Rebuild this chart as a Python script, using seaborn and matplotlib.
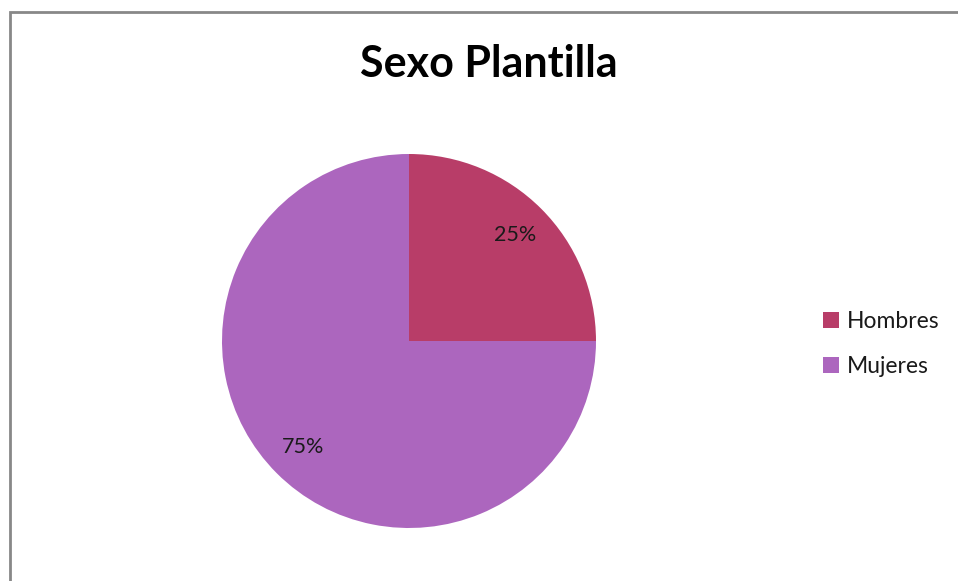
import matplotlib
matplotlib.use("Agg")
import matplotlib.pyplot as plt
from matplotlib.patches import Rectangle, Patch
import seaborn as sns

title = "Sexo Plantilla"
categories = ["Hombres", "Mujeres"]
values = [25, 75]
colors = ["#B83D68", "#AC66BE"]

sns.set_theme(style="white")
plt.rcParams['font.family'] = ['Lato', 'DejaVu Sans']
palette = sns.color_palette(colors)

fig = plt.figure(figsize=(9.58, 5.81), dpi=100)
W, H = 958, 581
cx, cy, r = 409, 341, 187
ax = fig.add_axes([(cx - r) / W, (H - cy - r) / H, 2 * r / W, 2 * r / H])
wedges, texts, autotexts = ax.pie(values, colors=palette, startangle=90, counterclock=False,
                                  autopct=lambda p: f"{p:.0f}%", pctdistance=0.8,
                                  wedgeprops={'linewidth': 0},
                                  radius=1.0, textprops={'fontsize': 15.5, 'color': '#1a1a1a'})
ax.set_xlim(-1, 1)
ax.set_ylim(-1, 1)
ax.set_aspect('equal')
ax.axis('off')

fig.text(489 / W, 1 - 64 / H, title, ha='center', va='center', fontsize=31, fontweight='bold', color='black')

handles = [Patch(facecolor=c, edgecolor='none', label=l) for c, l in zip(palette, categories)]
fig.legend(handles=handles, loc='center left', bbox_to_anchor=(802 / W, 1 - 344 / H), frameon=False,
           fontsize=16.5, handlelength=0.7, handleheight=0.7, handletextpad=0.35, labelspacing=1.05,
           labelcolor='#1a1a1a')

fig.patches.append(Rectangle((10 / W, -0.1), 1.1, 1.1 - 12 / H, transform=fig.transFigure,
                             fill=False, edgecolor='#888888', linewidth=2, zorder=0))

fig.savefig("out.png", dpi=100)
